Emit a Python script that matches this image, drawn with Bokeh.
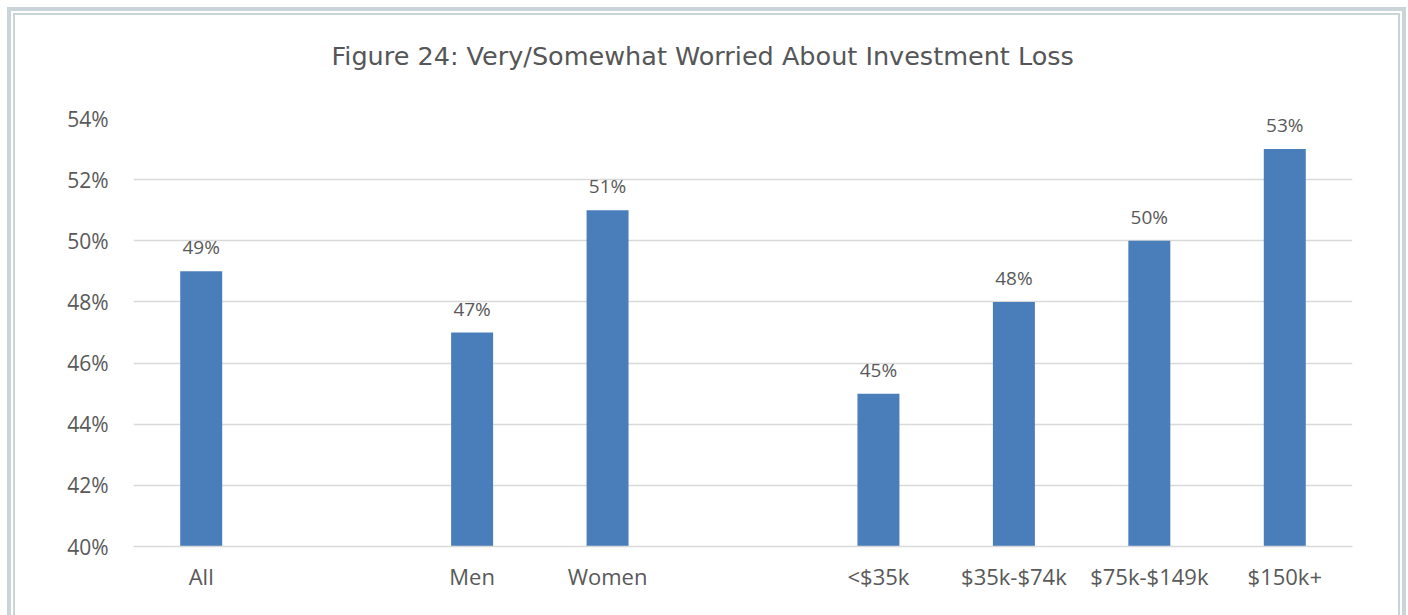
from bokeh.plotting import figure
from bokeh.models import (Range1d, FactorRange, FixedTicker, PrintfTickFormatter,
                          ColumnDataSource, Title)
from bokeh.layouts import column
from bokeh.embed import file_html
from bokeh.resources import INLINE
from bokeh.core.properties import value

# ---- data ----
categories = ["All", " ", "Men", "Women", "  ", "<$35k", "$35k-$74k", "$75k-$149k", "$150k+"]
bar_categories = ["All", "Men", "Women", "<$35k", "$35k-$74k", "$75k-$149k", "$150k+"]
bar_values = [49, 47, 51, 45, 48, 50, 53]
bar_labels = ["49%", "47%", "51%", "45%", "48%", "50%", "53%"]
y_ticks = [40, 42, 44, 46, 48, 50, 52, 54]
title_text = "Figure 24: Very/Somewhat Worried About Investment Loss"

FRAME = "#c9d5d8"
TXT = "#595959"

src = ColumnDataSource(dict(cat=bar_categories, val=bar_values, lab=bar_labels))

p = figure(
    x_range=FactorRange(*categories, range_padding=0),
    y_range=Range1d(40, 54),
    width=1383, height=600,
    output_backend="svg", toolbar_location=None,
    min_border_left=118, min_border_right=46, min_border_top=103, min_border_bottom=69,
)
# spacer panel between chart and title (nearest to the frame)
p.add_layout(Title(text=" ", text_font_size="10px", standoff=30), "above")
# the chart title
p.add_layout(Title(text=title_text, align="left", offset=198, standoff=10,
                   text_font="DejaVu Sans", text_font_size="25.5px",
                   text_font_style="normal", text_color="#555658"), "above")

p.vbar(x="cat", top="val", bottom=40, width=0.31, source=src,
       fill_color="#4a7ebb", line_color=None)
p.text(x="cat", y="val", text="lab", source=src, text_align="center",
       text_baseline="bottom", y_offset=-11, text_font=value("Open Sans"),
       text_font_size="19px", text_color=TXT)

p.outline_line_color = None
p.background_fill_color = "white"
p.border_fill_color = "white"

p.xgrid.grid_line_color = None
p.ygrid.grid_line_color = "#d9d9d9"
p.ygrid.grid_line_width = 1.5
p.yaxis.ticker = FixedTicker(ticks=y_ticks)
p.yaxis.formatter = PrintfTickFormatter(format="%d%%")
p.yaxis.axis_line_color = None
p.yaxis.major_tick_line_color = None
p.yaxis.minor_tick_line_color = None
p.yaxis.major_tick_out = 0
p.yaxis.major_label_standoff = 25
p.xaxis.axis_line_color = "#d9d9d9"
p.xaxis.axis_line_width = 1.5
p.xaxis.major_tick_line_color = None
p.xaxis.minor_tick_line_color = None
p.xaxis.major_tick_out = 0
p.xaxis.major_label_standoff = 14
for ax in (p.xaxis, p.yaxis):
    ax.major_label_text_font = "Open Sans"
    ax.major_label_text_color = TXT
p.yaxis.major_label_text_font_size = "21px"
p.xaxis.major_label_text_font_size = "22px"

inner = column(p, styles={"border-top": f"2px solid {FRAME}", "border-left": f"2px solid {FRAME}",
                          "border-right": f"2px solid {FRAME}", "background": "white"})
outer = column(inner, styles={"border-top": f"4px solid {FRAME}", "border-left": f"4px solid {FRAME}",
                              "border-right": f"4px solid {FRAME}", "padding": "2px 2px 0 2px",
                              "margin-left": "7px", "margin-top": "7px", "background": "white"})

open("out.html", "w").write(file_html(outer, INLINE))
